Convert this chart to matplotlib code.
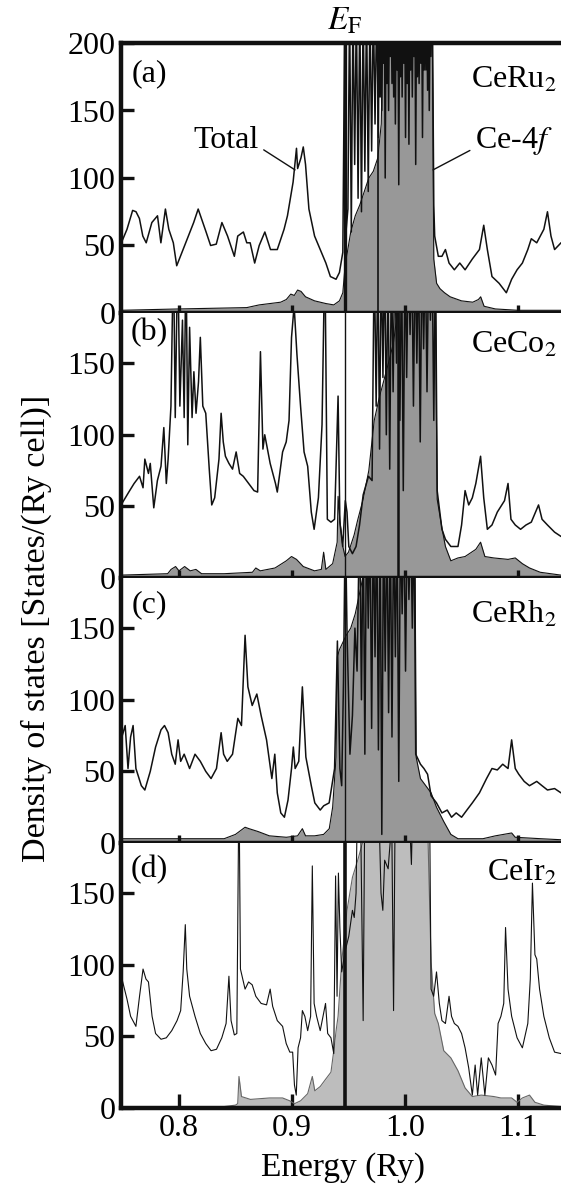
import matplotlib
matplotlib.use("Agg")
import matplotlib.pyplot as plt

plt.rcParams["font.family"] = ["Liberation Serif", "DejaVu Serif"]
plt.rcParams["mathtext.fontset"] = "stix"

# ---------------- data: total DOS and Ce-4f partial DOS (states / Ry cell) ----------------
# (a) CeRu2
tot_a_e = [0.748, 0.754, 0.759, 0.762, 0.765, 0.768, 0.771, 0.776, 0.781, 0.784, 0.788, 0.791,
           0.795, 0.798, 0.806, 0.813, 0.817, 0.824, 0.828, 0.833, 0.838, 0.843, 0.849, 0.852,
           0.857, 0.860, 0.863, 0.867, 0.871, 0.876, 0.881, 0.887, 0.893, 0.896, 0.899, 0.901,
           0.904, 0.905, 0.908, 0.910, 0.912, 0.915, 0.920, 0.925, 0.930, 0.934, 0.939, 0.942,
           0.945, 0.9465, 0.948, 0.9495,
           0.9510, 0.9525, 0.9540, 0.9555, 0.9570, 0.9585, 0.9600, 0.9615, 0.9630, 0.9645,
           0.9660, 0.9675, 0.9690, 0.9705, 0.9720, 0.9735, 0.9750,
           0.97650, 0.97725, 0.97800, 0.97875, 0.97950, 0.98025, 0.98100, 0.98175, 0.98250,
           0.98325, 0.98400, 0.98475, 0.98550, 0.98625, 0.98700, 0.98775, 0.98850, 0.98925,
           0.99000, 0.99075, 0.99150, 0.99225, 0.99300, 0.99375, 0.99450, 0.99525, 0.99600,
           0.99675, 0.99750, 0.99825, 0.99900, 0.99975, 1.00050, 1.00125, 1.00200, 1.00275,
           1.00350, 1.00425, 1.00500, 1.00575, 1.00650, 1.00725, 1.00800, 1.00875, 1.00950,
           1.01025, 1.01100, 1.01175, 1.01250, 1.01325, 1.01400, 1.01475, 1.01550, 1.01625,
           1.01700, 1.01775, 1.01850, 1.01925, 1.02000, 1.02075, 1.02150, 1.02225, 1.02300,
           1.02375, 1.0245,
           1.0255, 1.0263, 1.0295, 1.0327, 1.0358, 1.0390, 1.0437, 1.0485, 1.0532, 1.0596,
           1.0659, 1.0697, 1.0729, 1.0770, 1.0833, 1.0897, 1.0944, 1.0992, 1.1039, 1.1087,
           1.1118, 1.1166, 1.1197, 1.1229, 1.1261, 1.1292, 1.1324, 1.1381, 1.1450]
tot_a_y = [50, 62, 76, 75, 70, 57, 52, 67, 72, 52, 77, 62,
           52, 35, 52, 67, 77, 60, 50, 51, 67, 57, 42, 57,
           60, 52, 52, 37, 50, 60, 47, 47, 62, 72, 87, 97,
           122, 107, 115, 123, 110, 77, 57, 47, 37, 27, 25, 30,
           45, 200, 62, 77,
           230, 60, 230, 110, 230, 85, 230, 75, 230, 105,
           230, 90, 230, 120, 230, 140, 230,
           130, 230, 160, 230, 150, 230, 185, 230, 100,
           230, 170, 230, 150, 230, 190, 230, 170, 230,
           160, 230, 140, 230, 180, 230, 95, 230, 175,
           230, 160, 230, 185, 230, 130, 230, 170, 230,
           125, 230, 180, 230, 160, 230, 190, 230, 110,
           230, 175, 230, 170, 230, 185, 230, 130, 230,
           180, 230, 180, 230, 165, 230, 150, 230, 190,
           230, 200,
           80, 57, 42, 42, 47, 37, 32, 37, 32, 40,
           47, 65, 47, 27, 22, 15, 25, 32, 37, 47,
           55, 52, 57, 62, 75, 57, 47, 52, 55]
f4_a_e = [0.748, 0.800, 0.860, 0.871, 0.890, 0.895, 0.899, 0.902, 0.905, 0.908, 0.912, 0.920,
          0.930, 0.937, 0.942, 0.945, 0.947, 0.949, 0.952, 0.956, 0.960, 0.964, 0.968, 0.972,
          0.976, 0.979, 0.981, 1.024, 1.0255, 1.028, 1.031, 1.035, 1.040, 1.050, 1.060, 1.065,
          1.067, 1.070, 1.080, 1.100, 1.145]
f4_a_y = [2, 3, 4, 6, 8, 10, 14, 13, 17, 16, 12, 9,
          7, 6, 9, 15, 35, 45, 60, 72, 80, 90, 100, 105,
          115, 140, 230, 230, 40, 22, 18, 15, 12, 9, 8, 10,
          12, 5, 3, 2, 2]

# (b) CeCo2
tot_b_e = [0.748, 0.7556, 0.7603, 0.7651, 0.7682, 0.7698, 0.7730, 0.7746, 0.7777, 0.7809, 0.7841,
           0.7866, 0.7888, 0.7904, 0.7929, 0.7951, 0.7967, 0.7989, 0.8008, 0.8031, 0.8046, 0.8062,
           0.8078, 0.8094, 0.8116, 0.8132, 0.8151, 0.8173, 0.8189, 0.8211, 0.8237, 0.8268, 0.8290,
           0.8316, 0.8354, 0.8373, 0.8392, 0.8411, 0.8442, 0.8474, 0.8506, 0.8537, 0.8569, 0.8616,
           0.8664, 0.8696, 0.8721, 0.8743, 0.8759, 0.8807, 0.8854, 0.8870, 0.8917, 0.8949, 0.8974,
           0.8996, 0.9019, 0.9044, 0.9076, 0.9107, 0.9139, 0.9171, 0.9196, 0.9234, 0.9266, 0.9291,
           0.9313, 0.9345, 0.9377, 0.9408, 0.9424, 0.9449, 0.9472, 0.9487, 0.9503, 0.9535, 0.9567,
           0.9598, 0.9630, 0.9677, 0.9709,
           0.9728, 0.9745, 0.9760, 0.9775, 0.9790, 0.9805, 0.9820, 0.9835, 0.9850, 0.9865,
           0.9880, 0.9895, 0.9910, 0.9925, 0.9940, 0.9955, 0.9970, 0.9985, 1.0000, 1.0015,
           1.0030, 1.0045, 1.0060, 1.0075, 1.0090, 1.0105, 1.0120, 1.0135, 1.0150, 1.0165,
           1.0180, 1.0195, 1.0210, 1.0225, 1.0240, 1.0255, 1.0270, 1.0285,
           1.0327, 1.0358, 1.0406, 1.0469, 1.0501, 1.0532, 1.0564, 1.0596, 1.0627, 1.0669,
           1.0697, 1.0729, 1.0770, 1.0817, 1.0881, 1.0912, 1.0938, 1.0976, 1.1023, 1.1071,
           1.1118, 1.1182, 1.1213, 1.1261, 1.1324, 1.1381, 1.1450]
tot_b_y = [50, 60, 66, 71, 63, 83, 73, 80, 49, 68, 78,
           105, 66, 83, 120, 230, 112, 230, 120, 180, 112, 230,
           93, 175, 112, 144, 115, 137, 168, 120, 115, 76, 51,
           56, 83, 115, 95, 85, 80, 76, 88, 73, 71, 66,
           61, 60, 158, 90, 100, 80, 66, 60, 88, 95, 110,
           168, 190, 156, 120, 88, 78, 46, 34, 56, 107, 230,
           41, 39, 41, 127, 39, 22, 54, 46, 22, 17, 22,
           37, 58, 71, 68,
           230, 120, 230, 90, 230, 140, 230, 100, 230, 76,
           230, 130, 230, 150, 230, 110, 230, 61, 230, 140,
           230, 170, 230, 120, 230, 150, 230, 95, 230, 160,
           230, 130, 230, 180, 230, 110, 230, 61,
           34, 27, 22, 22, 37, 61, 51, 56, 66, 85,
           56, 34, 37, 46, 54, 66, 41, 37, 34, 37,
           39, 51, 41, 37, 32, 29, 30]
f4_b_e = [0.748, 0.790, 0.793, 0.797, 0.800, 0.805, 0.810, 0.815, 0.820, 0.840, 0.865, 0.868,
          0.872, 0.885, 0.895, 0.8996, 0.904, 0.910, 0.920, 0.926, 0.928, 0.930, 0.936, 0.940,
          0.9408, 0.9424, 0.945, 0.947, 0.950, 0.955, 0.958, 0.963, 0.968, 0.9728, 0.977, 0.982,
          0.987, 0.990, 0.994, 1.027, 1.0285, 1.0327, 1.0358, 1.0406, 1.0469, 1.0532, 1.0627,
          1.0669, 1.0707, 1.0786, 1.0912, 1.0976, 1.1039, 1.1102, 1.1197, 1.1381, 1.145]
f4_b_y = [2, 3, 6, 8, 5, 8, 5, 6, 3, 3, 4, 7,
          5, 7, 12, 15, 13, 8, 5, 6, 18, 6, 10, 25,
          57, 40, 22, 15, 18, 30, 40, 55, 75, 110, 125, 140,
          155, 165, 190, 190, 55, 35, 22, 12, 14, 15, 20,
          25, 15, 14, 13, 14, 10, 7, 4, 2, 2]

# (c) CeRh2
tot_c_e = [0.748, 0.7524, 0.7549, 0.7572, 0.7594, 0.7619, 0.7667, 0.7698, 0.7746, 0.7793, 0.7841,
           0.7872, 0.7904, 0.7936, 0.7967, 0.7992, 0.8015, 0.8046, 0.8094, 0.8142, 0.8189, 0.8237,
           0.8284, 0.8332, 0.8373, 0.8395, 0.8427, 0.8474, 0.8521, 0.8553, 0.8585, 0.8610, 0.8648,
           0.8689, 0.8727, 0.8775, 0.8822, 0.8848, 0.8870, 0.8901, 0.8933, 0.8965, 0.8996, 0.9012,
           0.9028, 0.9060, 0.9092, 0.9123, 0.9171, 0.9202, 0.9250, 0.9281, 0.9329, 0.9377, 0.9402,
           0.9424, 0.9440, 0.9456, 0.9472, 0.9487, 0.9513, 0.9535, 0.9557, 0.9576,
           0.9598, 0.9615, 0.9630, 0.9645, 0.9660, 0.9675, 0.9690, 0.9705, 0.9720, 0.9735,
           0.9750, 0.9765, 0.9780, 0.9795, 0.9810, 0.9825, 0.9840, 0.9855, 0.9870, 0.9885,
           0.9900, 0.9915, 0.9930, 0.9945, 0.9960, 0.9975, 0.9990, 1.0005, 1.0020, 1.0035,
           1.0050, 1.0065, 1.0080, 1.0095,
           1.0137, 1.0168, 1.0200, 1.0231, 1.0279, 1.0327, 1.0374, 1.0412, 1.0453, 1.0501,
           1.0548, 1.0596, 1.0659, 1.0722, 1.0770, 1.0817, 1.0865, 1.0912, 1.0944, 1.0976,
           1.1007, 1.1055, 1.1102, 1.1166, 1.1213, 1.1261, 1.1324, 1.1381, 1.1450]
tot_c_y = [70, 82, 52, 74, 82, 52, 40, 37, 50, 67, 79,
           82, 77, 62, 55, 72, 57, 62, 52, 62, 57, 50,
           45, 52, 77, 62, 57, 62, 87, 82, 145, 109, 96,
           104, 89, 72, 45, 62, 35, 21, 18, 30, 52, 67,
           52, 57, 109, 60, 40, 28, 23, 26, 28, 52, 141,
           52, 40, 113, 230, 148, 62, 89, 150, 120,
           230, 100, 230, 62, 230, 150, 230, 80, 230, 130,
           230, 65, 230, 6, 230, 120, 230, 91, 230, 74,
           230, 130, 230, 43, 230, 160, 230, 120, 230, 170,
           230, 150, 230, 62,
           55, 52, 48, 33, 28, 21, 23, 18, 21, 18,
           23, 28, 35, 45, 52, 51, 55, 52, 72, 52,
           48, 43, 40, 43, 40, 37, 38, 35, 36]
f4_c_e = [0.748, 0.840, 0.850, 0.8585, 0.862, 0.870, 0.880, 0.895, 0.905, 0.9092, 0.912, 0.920,
          0.928, 0.933, 0.936, 0.939, 0.9402, 0.942, 0.945, 0.948, 0.952, 0.956, 0.960, 0.964,
          1.009, 1.0099, 1.0137, 1.0184, 1.0231, 1.0279, 1.0343, 1.0406, 1.0469, 1.069, 1.080,
          1.0944, 1.0976, 1.120, 1.145]
f4_c_y = [3, 3, 6, 11, 10, 8, 5, 4, 5, 10, 5, 5,
          6, 10, 25, 60, 130, 135, 140, 145, 150, 160, 175, 190,
          190, 60, 45, 40, 35, 25, 15, 6, 3, 3, 5,
          7, 4, 3, 2]

# (d) CeIr2
tot_d_e = [0.748, 0.7540, 0.7572, 0.7619, 0.7651, 0.7682, 0.7708, 0.7730, 0.7762, 0.7793, 0.7841,
           0.7888, 0.7936, 0.7983, 0.8015, 0.8037, 0.8056, 0.8069, 0.8094, 0.8142, 0.8189, 0.8237,
           0.8284, 0.8332, 0.8379, 0.8417, 0.8442, 0.8461, 0.8490, 0.8512, 0.8531, 0.8544, 0.8585,
           0.8616, 0.8648, 0.8680, 0.8727, 0.8775, 0.8807, 0.8829, 0.8870, 0.8917, 0.8949, 0.8981,
           0.9006, 0.9022, 0.9038, 0.9054, 0.9076, 0.9092, 0.9114, 0.9139, 0.9165, 0.9180, 0.9196,
           0.9218, 0.9250, 0.9275, 0.9297, 0.9316, 0.9345, 0.9370, 0.9386, 0.9399, 0.9411, 0.9424,
           0.9440, 0.9472, 0.9503, 0.9535, 0.9551, 0.9567, 0.9582, 0.9608, 0.9630, 0.9646, 0.9677,
           0.9772, 0.9788, 0.9804, 0.9820, 0.9851, 0.9883, 0.9899, 0.9915, 1.0026, 1.0057, 1.0073,
           1.0216, 1.0231, 1.0254, 1.0279, 1.0304, 1.0327, 1.0358, 1.0390, 1.0412, 1.0437, 1.0469,
           1.0501, 1.0532, 1.0564, 1.0596, 1.0621, 1.0643, 1.0675, 1.0707, 1.0738, 1.0770, 1.0802,
           1.0824, 1.0849, 1.0874, 1.0890, 1.0912, 1.0944, 1.0992, 1.1039, 1.1087, 1.1109, 1.1128,
           1.1150, 1.1166, 1.1191, 1.1229, 1.1277, 1.1324, 1.1381, 1.1450]
tot_d_y = [95, 76, 64, 57, 78, 97, 90, 88, 64, 52, 48,
           49, 54, 61, 68, 95, 128, 97, 78, 64, 52, 45,
           40, 41, 49, 59, 92, 61, 51, 52, 230, 97, 83,
           88, 86, 78, 73, 72, 83, 71, 61, 57, 45, 39,
           39, 16, 9, 42, 49, 68, 64, 54, 64, 169, 73,
           64, 54, 64, 73, 52, 49, 38, 162, 78, 164, 126,
           95, 110, 120, 138, 133, 150, 230, 200, 61, 230, 230,
           200, 150, 138, 173, 167, 200, 68, 230, 230, 170, 230,
           230, 83, 78, 95, 73, 61, 59, 78, 64, 59, 57,
           52, 42, 28, 9, 30, 9, 35, 9, 35, 30, 23,
           59, 64, 73, 126, 83, 64, 49, 42, 59, 90, 157,
           107, 104, 83, 64, 49, 39, 38, 38]
f4_d_e = [0.748, 0.840, 0.850, 0.852, 0.8531, 0.8553, 0.8632, 0.880, 0.8917, 0.8981, 0.9022,
          0.9076, 0.9139, 0.9180, 0.9202, 0.9250, 0.9297, 0.9345, 0.9370, 0.9392, 0.9408, 0.9440,
          0.9487, 0.9535, 0.9582, 0.9677, 1.0200, 1.0231, 1.0263, 1.0295, 1.0343, 1.0406, 1.0469,
          1.0532, 1.0596, 1.0675, 1.0786, 1.0849, 1.0944, 1.0992, 1.1039, 1.1102, 1.1150, 1.1229,
          1.1381, 1.1450]
f4_d_y = [0, 1, 2, 3, 22, 8, 6, 7, 7, 5, 3,
          5, 10, 22, 12, 15, 20, 25, 40, 55, 64, 102,
          138, 161, 173, 200, 200, 102, 66, 59, 40, 35, 26,
          14, 8, 9, 8, 7, 7, 4, 7, 9, 4, 2,
          1, 1]

compounds = ["CeRu$_2$", "CeCo$_2$", "CeRh$_2$", "CeIr$_2$"]
panel_tags = ["(a)", "(b)", "(c)", "(d)"]
y_ticks = [[0, 50, 100, 150, 200], [0, 50, 100, 150], [0, 50, 100, 150], [0, 50, 100, 150]]
x_ticks = [0.8, 0.9, 1.0, 1.1]
fermi_energy = 0.947
extra_levels = [[0.9757], [0.994], [], []]

totals = [(tot_a_e, tot_a_y), (tot_b_e, tot_b_y), (tot_c_e, tot_c_y), (tot_d_e, tot_d_y)]
ce4f = [(f4_a_e, f4_a_y), (f4_b_e, f4_b_y), (f4_c_e, f4_c_y), (f4_d_e, f4_d_y)]

# ---------------- figure layout (pixel geometry) ----------------
W, H = 561, 1186
fig = plt.figure(figsize=(W / 100, H / 100), dpi=100)
left_px, right_px = 121, 566
panels_px = [(43, 313), (313, 578), (578, 843), (843, 1108)]
ylims = [200, 185, 185, 185]
tag_offset = [31, 20, 27, 27]
name_offset = [37, 32, 37, 30]
fill_colors = ["#989898", "#989898", "#989898", "#bdbdbd"]
edge_colors = ["#111111", "#111111", "#111111", "#666666"]
fermi_lw = [2.4, 1.0, 1.0, 2.6]
extra_lw = [1.2, 1.8, 1.0, 1.0]
tot_lw = [1.1, 1.1, 1.1, 0.8]
FS = 23

axes = []
for i, (top, bot) in enumerate(panels_px):
    ax = fig.add_axes([left_px / W, 1 - bot / H, (right_px - left_px) / W, (bot - top) / H])
    axes.append(ax)
    e4, y4 = ce4f[i]
    ax.fill_between(e4, 0, y4, color=fill_colors[i], lw=0, zorder=1)
    ax.plot(e4, y4, color=edge_colors[i], lw=0.8, zorder=2)
    et, yt = totals[i]
    ax.plot(et, yt, color="#111111", lw=tot_lw[i], zorder=3)
    ax.axvline(fermi_energy, color="#111111", lw=fermi_lw[i], zorder=4)
    for lv in extra_levels[i]:
        ax.axvline(lv, color="#111111", lw=extra_lw[i], zorder=4)

    ax.set_xlim(0.7487, 1.1425)
    ax.set_ylim(0, ylims[i])
    ax.set_yticks(y_ticks[i])
    ax.set_xticks(x_ticks)
    ax.tick_params(axis="y", direction="in", length=9, width=2.4, labelsize=FS, pad=4,
                   color="#111111")
    ax.tick_params(axis="x", direction="in", length=10 if i == 3 else 6, width=2.4,
                   labelsize=FS, pad=4, color="#111111", labelbottom=(i == 3))
    ax.spines["right"].set_visible(False)
    ax.spines["top"].set_visible(i == 0)
    for s in ("left", "bottom", "top"):
        ax.spines[s].set_linewidth(3.2)
        ax.spines[s].set_color("#111111")
        ax.spines[s].set_zorder(6)

    fig.text(149 / W, 1 - (top + tag_offset[i]) / H, panel_tags[i], fontsize=FS,
             ha="center", va="center")
    fig.text(557 / W, 1 - (top + name_offset[i]) / H, compounds[i], fontsize=FS,
             ha="right", va="center")

ax_a = axes[0]
ax_a.annotate("Total", xy=(0.9027, 106), xytext=(0.8416, 122), fontsize=FS,
              ha="center", va="baseline",
              arrowprops=dict(arrowstyle="-", lw=1.0, color="#111111",
                              shrinkA=2, shrinkB=0, relpos=(1.0, 0.3)))
ax_a.annotate("Ce-4$f$", xy=(1.0248, 106), xytext=(1.0965, 122), fontsize=FS,
              ha="center", va="baseline",
              arrowprops=dict(arrowstyle="-", lw=1.0, color="#111111",
                              shrinkA=2, shrinkB=0, relpos=(0.0, 0.3)))

fig.text(345 / W, 1 - 21 / H, r"$E_{\mathrm{F}}$", fontsize=24, ha="center", va="center")
fig.text(36 / W, 1 - 628 / H, "Density of states [States/(Ry cell)]", fontsize=24.5,
         rotation=90, ha="center", va="center")
fig.text(343 / W, 1 - 1168 / H, "Energy (Ry)", fontsize=24, ha="center", va="center")

fig.savefig("out.png", dpi=100)
